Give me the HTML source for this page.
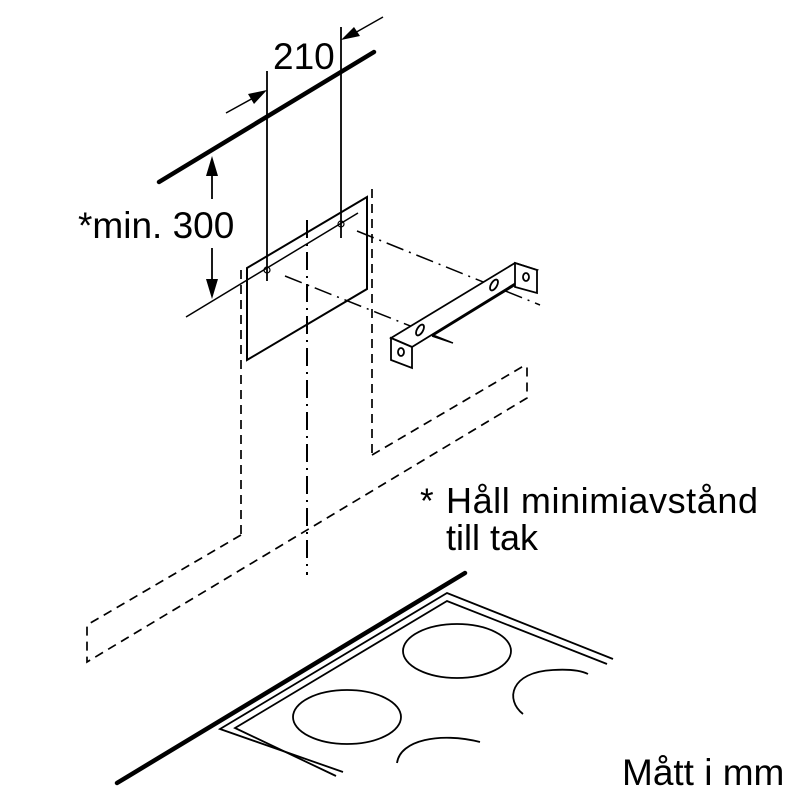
<!DOCTYPE html>
<html><head><meta charset="utf-8"><style>html,body{margin:0;padding:0;background:#fff}svg{display:block}</style></head>
<body>
<svg width="800" height="800" viewBox="0 0 800 800" xmlns="http://www.w3.org/2000/svg">
<g stroke="#000" fill="none" stroke-linecap="butt">
<line x1="159" y1="182" x2="374" y2="52" stroke-width="4.5" stroke-linecap="round"/>
<line x1="267" y1="71" x2="267" y2="281" stroke-width="1.8"/>
<line x1="341" y1="27" x2="341" y2="238" stroke-width="1.8"/>
<line x1="226" y1="113" x2="255" y2="97" stroke-width="1.5"/>
<polygon points="267,90 248,94 254,104" fill="#000" stroke="none"/>
<line x1="383" y1="17" x2="353" y2="34" stroke-width="1.5"/>
<polygon points="341,40 360,36 354,27" fill="#000" stroke="none"/>
<line x1="212" y1="175" x2="212" y2="199" stroke-width="1.8"/>
<polygon points="212,156 206,176 218,176" fill="#000" stroke="none"/>
<line x1="212" y1="248" x2="212" y2="280" stroke-width="1.8"/>
<polygon points="212,299 206,279 218,279" fill="#000" stroke="none"/>
<line x1="186" y1="317" x2="358" y2="213" stroke-width="1.5"/>
<polygon points="247,268 367,197 367,289 247,360" stroke-width="2"/>
<circle cx="267" cy="270" r="3" stroke-width="1.2"/>
<circle cx="341" cy="224" r="3" stroke-width="1.2"/>
<g stroke-width="1.5" stroke-dasharray="18,6,2,6">
<line x1="307" y1="220" x2="307" y2="575" stroke-width="2"/>
<line x1="285" y1="276" x2="453" y2="343"/>
<line x1="357" y1="231" x2="540" y2="305"/>
</g>
<g stroke-width="1.7" stroke-dasharray="9,6">
<line x1="241" y1="270" x2="241" y2="535"/>
<polyline points="241,535 87,625 87,662 527,398 527,364"/>
<line x1="372" y1="189" x2="372" y2="455"/>
<line x1="372" y1="455" x2="527" y2="364"/>
</g>
<g stroke-width="1.8" fill="#fff">
<polygon points="391,338 515,263 537,270 412,347"/>
<polygon points="391,338 412,347 412,368 391,360"/>
<polygon points="515,263 537,270 537,293 515,287"/>
<line x1="432" y1="336" x2="515" y2="285"/>
<ellipse cx="401" cy="352" rx="3" ry="4"/>
<ellipse cx="526" cy="277" rx="3" ry="4"/>
<ellipse cx="420" cy="330" rx="3" ry="6" transform="rotate(30 420 330)"/>
<ellipse cx="494" cy="285" rx="3" ry="6" transform="rotate(30 494 285)"/>
</g>
<line x1="432" y1="336" x2="453" y2="343" stroke-width="1.5"/>
<line x1="117" y1="783" x2="465" y2="573" stroke-width="4.5" stroke-linecap="round"/>
<polyline points="343,772 220,729 447,593 613,659" stroke-width="1.8"/>
<polyline points="336,776 235,728 447,601 607,664" stroke-width="1.8"/>
<ellipse cx="457" cy="651" rx="54" ry="27" stroke-width="1.8"/>
<ellipse cx="347" cy="717" rx="54" ry="27" stroke-width="1.8"/>
<path d="M523,714 C505,700 510,672 553,670 C570,669 582,671 588,674" stroke-width="1.8"/>
<path d="M397,763 C400,740 440,732 480,742" stroke-width="1.8"/>
</g>
<g font-family="'Liberation Sans', sans-serif" fill="#000">
<text x="273" y="69" font-size="37">210</text>
<text x="78" y="238" font-size="37">*min. 300</text>
<text x="420" y="513" font-size="35">* </text>
<text x="446" y="513" font-size="36" textLength="312">Håll minimiavstånd</text>
<text x="446" y="550" font-size="36">till tak</text>
<text x="622" y="785" font-size="37">Mått i mm</text>
</g>
</svg>
</body></html>
